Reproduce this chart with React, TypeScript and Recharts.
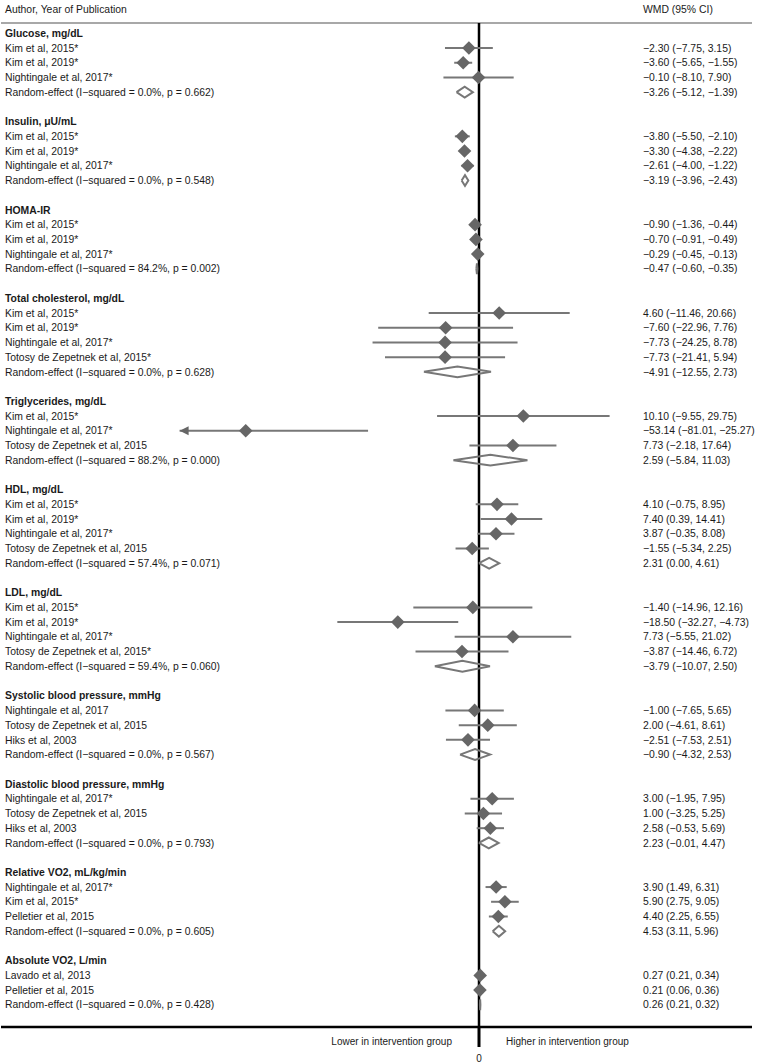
import React from 'react';
import { ScatterChart, Scatter, XAxis, YAxis, ErrorBar, ReferenceLine } from 'recharts';

const groupTitles = [
  'Glucose, mg/dL',
  'Insulin, μU/mL',
  'HOMA-IR',
  'Total cholesterol, mg/dL',
  'Triglycerides, mg/dL',
  'HDL, mg/dL',
  'LDL, mg/dL',
  'Systolic blood pressure, mmHg',
  'Diastolic blood pressure, mmHg',
  'Relative VO2, mL/kg/min',
  'Absolute VO2, L/min',
];

const studyNames = [
  ['Kim et al, 2015*', 'Kim et al, 2019*', 'Nightingale et al, 2017*'],
  ['Kim et al, 2015*', 'Kim et al, 2019*', 'Nightingale et al, 2017*'],
  ['Kim et al, 2015*', 'Kim et al, 2019*', 'Nightingale et al, 2017*'],
  ['Kim et al, 2015*', 'Kim et al, 2019*', 'Nightingale et al, 2017*', 'Totosy de Zepetnek et al, 2015*'],
  ['Kim et al, 2015*', 'Nightingale et al, 2017*', 'Totosy de Zepetnek et al, 2015'],
  ['Kim et al, 2015*', 'Kim et al, 2019*', 'Nightingale et al, 2017*', 'Totosy de Zepetnek et al, 2015'],
  ['Kim et al, 2015*', 'Kim et al, 2019*', 'Nightingale et al, 2017*', 'Totosy de Zepetnek et al, 2015*'],
  ['Nightingale et al, 2017', 'Totosy de Zepetnek et al, 2015', 'Hiks et al, 2003'],
  ['Nightingale et al, 2017*', 'Totosy de Zepetnek et al, 2015', 'Hiks et al, 2003'],
  ['Nightingale et al, 2017*', 'Kim et al, 2015*', 'Pelletier et al, 2015'],
  ['Lavado et al, 2013', 'Pelletier et al, 2015'],
];

const studyEst = [
  [-2.3, -3.6, -0.1],
  [-3.8, -3.3, -2.61],
  [-0.9, -0.7, -0.29],
  [4.6, -7.6, -7.73, -7.73],
  [10.1, -53.14, 7.73],
  [4.1, 7.4, 3.87, -1.55],
  [-1.4, -18.5, 7.73, -3.87],
  [-1.0, 2.0, -2.51],
  [3.0, 1.0, 2.58],
  [3.9, 5.9, 4.4],
  [0.27, 0.21],
];

const studyLow = [
  [-7.75, -5.65, -8.1],
  [-5.5, -4.38, -4.0],
  [-1.36, -0.91, -0.45],
  [-11.46, -22.96, -24.25, -21.41],
  [-9.55, -81.01, -2.18],
  [-0.75, 0.39, -0.35, -5.34],
  [-14.96, -32.27, -5.55, -14.46],
  [-7.65, -4.61, -7.53],
  [-1.95, -3.25, -0.53],
  [1.49, 2.75, 2.25],
  [0.21, 0.06],
];

const studyHigh = [
  [3.15, -1.55, 7.9],
  [-2.1, -2.22, -1.22],
  [-0.44, -0.49, -0.13],
  [20.66, 7.76, 8.78, 5.94],
  [29.75, -25.27, 17.64],
  [8.95, 14.41, 8.08, 2.25],
  [12.16, -4.73, 21.02, 6.72],
  [5.65, 8.61, 2.51],
  [7.95, 5.25, 5.69],
  [6.31, 9.05, 6.55],
  [0.34, 0.36],
];

const pooledEst = [-3.26, -3.19, -0.47, -4.91, 2.59, 2.31, -3.79, -0.9, 2.23, 4.53, 0.26];
const pooledLow = [-5.12, -3.96, -0.6, -12.55, -5.84, 0.0, -10.07, -4.32, -0.01, 3.11, 0.21];
const pooledHigh = [-1.39, -2.43, -0.35, 2.73, 11.03, 4.61, 2.5, 2.53, 4.47, 5.96, 0.32];
const iSquared = ['0.0', '0.0', '84.2', '0.0', '88.2', '57.4', '59.4', '0.0', '0.0', '0.0', '0.0'];
const pValues = ['0.662', '0.548', '0.002', '0.628', '0.000', '0.071', '0.060', '0.567', '0.793', '0.605', '0.428'];

// page geometry (pixels)
const W = 760;
const H = 1063;
const ROW = 14.72;
const FIRST = 33.3;
const AXIS_Y = 1027;
const ZERO_X = 479;
const PX_PER_UNIT = 4.39;
const PLOT_LEFT = 1;
const RIGHT_EDGE = 752;

const X_MIN = -(ZERO_X - PLOT_LEFT) / PX_PER_UNIT;
const X_MAX = (RIGHT_EDGE - ZERO_X) / PX_PER_UNIT;
const X_CLIP = -68.2;
const Y_MIN = -FIRST / ROW;
const Y_MAX = (AXIS_Y - FIRST) / ROW;
const HEADER_Y = (9 - FIRST) / ROW;
const SEP_Y = (23 - FIRST) / ROW;
const HALF_H = 5.4 / ROW;

const FONT = '"Liberation Sans", Arial, sans-serif';
const FS = 10.4;
const MARK = '#666666';
const LINE = '#777777';

const fmt = (v: number) => v.toFixed(2).replace('-', '\u2212');
const ci = (e: number, l: number, h: number) => `${fmt(e)} (${fmt(l)}, ${fmt(h)})`;

type Row = { y: number; left: string; right: string; bold?: boolean };

const rows: Row[] = [{ y: HEADER_Y, left: 'Author, Year of Publication', right: 'WMD (95% CI)' }];
const studyPts: { x: number; y: number; err: number[] }[] = [];
const arrowPts: { x: number; y: number }[] = [];
const pooledShapes: { x: number; y: number }[][] = [];

let r = 0;
groupTitles.forEach((title, g) => {
  rows.push({ y: r, left: title, right: '', bold: true });
  r++;
  studyNames[g].forEach((name, k) => {
    const e = studyEst[g][k];
    const l = studyLow[g][k];
    const h = studyHigh[g][k];
    const lShown = Math.max(l, X_CLIP);
    rows.push({ y: r, left: name, right: ci(e, l, h) });
    studyPts.push({ x: e, y: r, err: [e - lShown, h - e] });
    if (l < X_CLIP) arrowPts.push({ x: X_CLIP, y: r });
    r++;
  });
  const e = pooledEst[g];
  const l = pooledLow[g];
  const h = pooledHigh[g];
  rows.push({
    y: r,
    left: `Random-effect (I\u2212squared = ${iSquared[g]}%, p = ${pValues[g]})`,
    right: ci(e, l, h),
  });
  pooledShapes.push([
    { x: l, y: r },
    { x: e, y: r - HALF_H },
    { x: h, y: r },
    { x: e, y: r + HALF_H },
    { x: l, y: r },
  ]);
  r += 2;
});

const rowTicks = rows.map((row) => row.y);

function RowLabel(props: any) {
  const { y, payload, index } = props;
  const row = rows.find((rw) => Math.abs(rw.y - payload.value) < 1e-6) || rows[index];
  if (!row) return null;
  return (
    <g>
      <text x={5} y={y} dy="0.35em" fontSize={FS} fontFamily={FONT} fontWeight={row.bold ? 'bold' : 'normal'} fill="#1a1a1a">
        {row.left}
      </text>
      {row.right && (
        <text x={643} y={y} dy="0.35em" fontSize={FS} fontFamily={FONT} fill="#1a1a1a">
          {row.right}
        </text>
      )}
    </g>
  );
}

function ZeroTick(props: any) {
  const { x, y } = props;
  return (
    <g fontFamily={FONT} fontSize={10} fill="#1a1a1a">
      <text x={x} y={y + 12.5} textAnchor="middle">0</text>
      <text x={x - 27} y={y - 4.5} textAnchor="end">Lower in intervention group</text>
      <text x={x + 27} y={y - 4.5} textAnchor="start">Higher in intervention group</text>
    </g>
  );
}

const Diamond = (props: any) => {
  const { cx, cy } = props;
  const s = 6.8;
  return <polygon points={`${cx},${cy - s} ${cx + s},${cy} ${cx},${cy + s} ${cx - s},${cy}`} fill={MARK} />;
};

const ArrowHead = (props: any) => {
  const { cx, cy } = props;
  return <polygon points={`${cx},${cy} ${cx + 9},${cy - 4.5} ${cx + 9},${cy + 4.5}`} fill={MARK} />;
};

export default function App() {
  return (
    <div style={{ position: 'absolute', left: 0, top: 0, width: W, height: H, background: '#fff' }}>
      <ScatterChart width={W} height={H} margin={{ top: 0, right: W - RIGHT_EDGE, bottom: 0, left: 0 }}>
        <XAxis
          type="number"
          dataKey="x"
          domain={[X_MIN, X_MAX]}
          allowDataOverflow
          ticks={[0]}
          height={H - AXIS_Y}
          axisLine={{ stroke: '#000', strokeWidth: 2.5 }}
          tickLine={{ stroke: '#000', strokeWidth: 3 }}
          tickSize={20}
          tick={<ZeroTick />}
        />
        <YAxis
          type="number"
          dataKey="y"
          domain={[Y_MIN, Y_MAX]}
          reversed
          allowDataOverflow
          width={PLOT_LEFT}
          ticks={rowTicks}
          interval={0}
          axisLine={false}
          tickLine={false}
          tick={<RowLabel />}
        />
        <ReferenceLine y={SEP_Y} stroke="#a8a8a8" strokeWidth={2} />
        <ReferenceLine
          segment={[
            { x: 0, y: SEP_Y },
            { x: 0, y: Y_MAX },
          ]}
          stroke="#000"
          strokeWidth={2.5}
        />
        {pooledShapes.map((pts, i) => (
          <Scatter
            key={`pool-${i}`}
            data={pts}
            line={{ stroke: LINE, strokeWidth: 2 }}
            shape={() => <g />}
            isAnimationActive={false}
          />
        ))}
        <Scatter data={studyPts} fill={MARK} shape={<Diamond />} isAnimationActive={false}>
          <ErrorBar dataKey="err" direction="x" width={0} stroke={LINE} strokeWidth={2} isAnimationActive={false} />
        </Scatter>
        <Scatter data={arrowPts} fill={MARK} shape={<ArrowHead />} isAnimationActive={false} />
      </ScatterChart>
    </div>
  );
}
